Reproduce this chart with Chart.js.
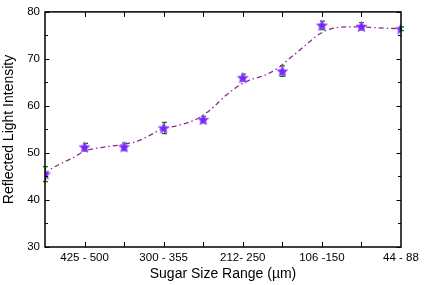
<!DOCTYPE html>
<html>
<head>
<meta charset="utf-8">
<script src="https://cdn.jsdelivr.net/npm/chart.js@4.4.1/dist/chart.umd.min.js"></script>
<style>
html,body{margin:0;padding:0;background:#fff;}
#wrap{width:425px;height:285px;position:relative;}
</style>
</head>
<body>
<div id="wrap"><canvas id="c" width="425" height="285"></canvas></div>
<script>
// ---- data ----
const sizeRanges = ["", "425 - 500", "", "300 - 355", "", "212- 250", "", "106 -150", "", "44 - 88"];
const intensity = [45.5, 51.25, 51.3, 55.3, 57.1, 66.0, 67.4, 77.15, 76.9, 76.4];
const intensityErr = [1.6, 0.8, 0.8, 1.2, 0.7, 0.75, 1.1, 0.9, 0.8, 0.4];
const fitX = [0, 0.12, 0.37, 0.7, 1.0, 1.38, 1.96, 2.34, 2.64, 2.96, 3.39, 3.9, 4.28, 4.54, 4.92, 5.17, 5.55, 5.93, 6.18, 6.43, 6.68, 6.94, 7.19, 7.57, 8.0, 8.45, 9.0];
const fitY = [45.4, 46.4, 47.6, 48.95, 50.4, 51.1, 51.8, 52.5, 53.7, 55.1, 55.9, 57.5, 59.9, 62.0, 64.4, 65.5, 66.5, 68.3, 70.1, 71.8, 73.6, 75.3, 76.3, 76.8, 76.8, 76.6, 76.4];
const yTicks = [30, 40, 50, 60, 70, 80];

// ---- star marker image ----
function makeStar(size) {
  const cv = document.createElement('canvas');
  cv.width = size; cv.height = size;
  const g = cv.getContext('2d');
  const cx = size / 2, cy = size / 2 + 0.5, R = size / 2 - 0.6, r = R * 0.45;
  g.beginPath();
  for (let i = 0; i < 10; i++) {
    const rad = i % 2 === 0 ? R : r;
    const a = -Math.PI / 2 + i * Math.PI / 5;
    const px = cx + rad * Math.cos(a), py = cy + rad * Math.sin(a);
    if (i === 0) g.moveTo(px, py); else g.lineTo(px, py);
  }
  g.closePath();
  g.fillStyle = '#8020ff';
  g.fill();
  g.lineWidth = 1;
  g.strokeStyle = 'rgba(160,110,255,0.7)';
  g.stroke();
  return cv;
}
const starImg = makeStar(13);

const pts = intensity.map((v, i) => ({x: i, y: v}));
const fitPts = fitX.map((x, i) => ({x: x, y: fitY[i]}));

const framePlugin = {
  id: 'frame',
  beforeDatasetsDraw(chart) {
    const ctx = chart.ctx, xs = chart.scales.x, ys = chart.scales.y;
    ctx.save();
    ctx.strokeStyle = '#008000';
    ctx.lineWidth = 1.2;
    intensity.forEach((v, i) => {
      const px = Math.round(xs.getPixelForValue(i)) + 0.5;
      const y1 = ys.getPixelForValue(v + intensityErr[i]);
      const y2 = ys.getPixelForValue(v - intensityErr[i]);
      ctx.beginPath();
      ctx.moveTo(px, y1); ctx.lineTo(px, y2);
      ctx.moveTo(px - 2.5, y1); ctx.lineTo(px + 2.5, y1);
      ctx.moveTo(px - 2.5, y2); ctx.lineTo(px + 2.5, y2);
      ctx.stroke();
    });
    ctx.restore();
  },
  afterDraw(chart) {
    const ctx = chart.ctx, a = chart.chartArea, xs = chart.scales.x, ys = chart.scales.y;
    ctx.save();
    ctx.strokeStyle = '#000';
    ctx.lineWidth = 1.5;
    ctx.strokeRect(a.left, a.top, a.right - a.left, a.bottom - a.top);
    ctx.lineWidth = 1;
    ctx.beginPath();
    for (let i = 1; i < sizeRanges.length - 1; i++) {
      const px = Math.round(xs.getPixelForValue(i)) + 0.5;
      ctx.moveTo(px, a.bottom); ctx.lineTo(px, a.bottom - 5);
      ctx.moveTo(px, a.top); ctx.lineTo(px, a.top + 5);
    }
    for (let v = 30; v <= 80; v += 5) {
      const py = Math.round(ys.getPixelForValue(v)) + 0.5;
      const len = v % 10 === 0 ? 4.5 : 3;
      ctx.moveTo(a.left, py); ctx.lineTo(a.left + len, py);
      ctx.moveTo(a.right, py); ctx.lineTo(a.right - len, py);
    }
    ctx.stroke();
    ctx.restore();
  }
};

const font = "'Liberation Sans', Arial, sans-serif";

new Chart(document.getElementById('c'), {
  type: 'scatter',
  data: {
    datasets: [
      {
        data: pts,
        pointStyle: starImg,
        pointRadius: 6,
        showLine: false,
        order: 0
      },
      {
        data: fitPts,
        showLine: true,
        pointRadius: 0,
        borderColor: '#8a2a8f',
        borderWidth: 1.3,
        borderDash: [5, 3, 1.5, 3],
        cubicInterpolationMode: 'monotone',
        order: 1
      }
    ]
  },
  options: {
    responsive: false,
    animation: false,
    events: [],
    layout: {padding: {top: 7, right: 24, left: 0, bottom: 0}},
    plugins: {legend: {display: false}, tooltip: {enabled: false}},
    scales: {
      x: {
        type: 'linear',
        min: 0, max: 9,
        grid: {display: false, drawTicks: false},
        border: {display: false},
        afterFit: s => { s.height = 38; },
        afterBuildTicks: s => { s.ticks = sizeRanges.map((_, i) => ({value: i})); },
        ticks: {
          autoSkip: false, maxRotation: 0, padding: 4,
          color: '#000',
          font: {family: font, size: 11.5},
          callback: (v) => sizeRanges[v] || ''
        },
        title: {
          display: true, text: 'Sugar Size Range (µm)', color: '#000',
          font: {family: font, size: 14}, padding: {top: 0, bottom: 2}
        }
      },
      y: {
        min: 30, max: 80,
        grid: {display: false, drawTicks: false},
        border: {display: false},
        afterFit: s => { s.width = 45; },
        afterBuildTicks: s => { s.ticks = yTicks.map(v => ({value: v})); },
        ticks: {
          padding: 5, color: '#000',
          font: {family: font, size: 11.5}
        },
        title: {
          display: true, text: 'Reflected Light Intensity', color: '#000',
          font: {family: font, size: 14}, padding: {top: 1, bottom: 0}
        }
      }
    }
  },
  plugins: [framePlugin]
});
</script>
</body>
</html>
